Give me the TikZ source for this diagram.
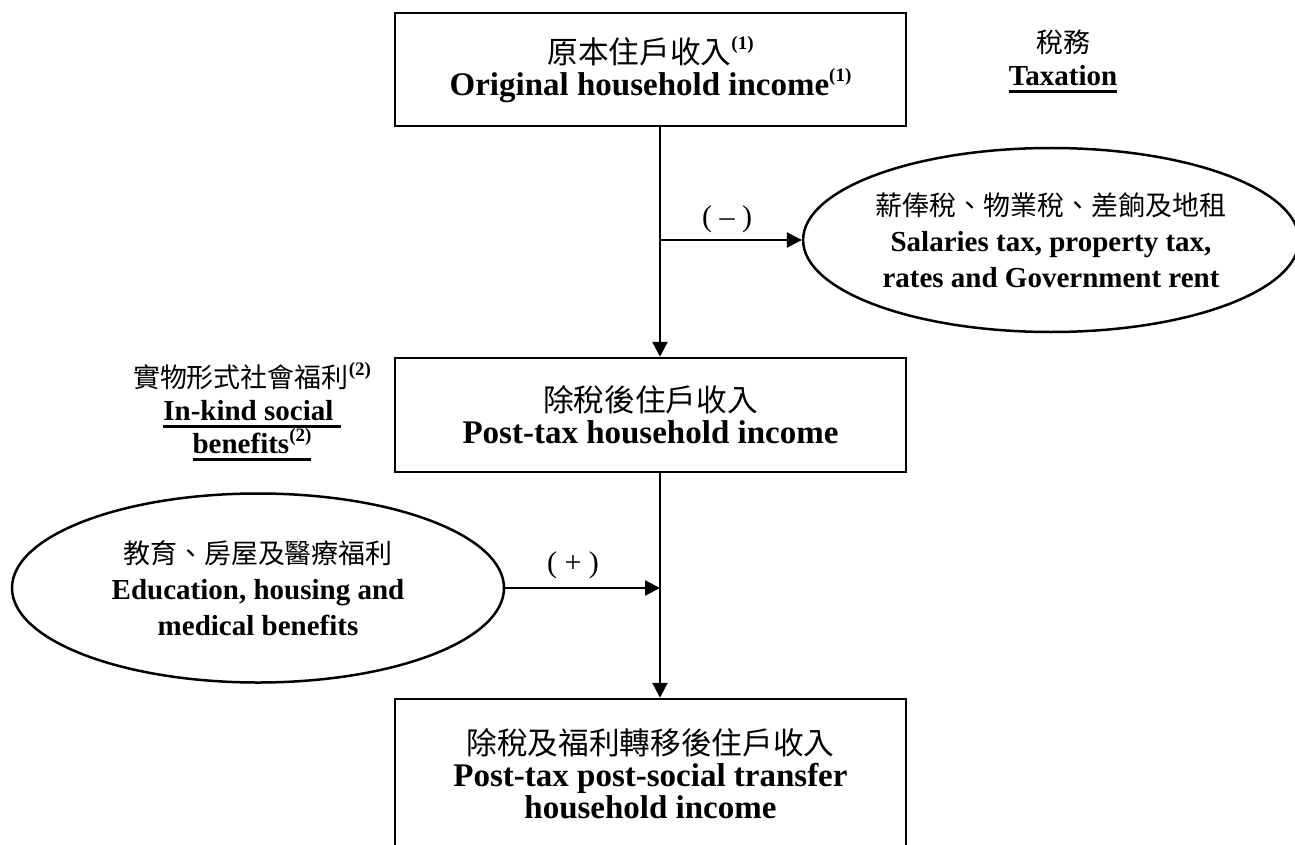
\documentclass[tikz,border=0pt]{standalone}
\usepackage{fontspec}
\setmainfont{Liberation Serif}
\newfontfamily\cjk[Scale=0.93]{Noto Sans CJK TC}
\usetikzlibrary{shapes.geometric,arrows.meta}
\newcommand\boxf{\fontsize{33}{32}\selectfont}
\newcommand\ellf{\fontsize{29}{36}\selectfont}
\newcommand\labf{\fontsize{29}{33}\selectfont}
\newcommand\supx[1]{\raisebox{0.42em}{\fontsize{19}{19}\selectfont\bfseries #1}}
\newcommand\ulx[1]{\setbox0\hbox{#1}\rlap{\rule[-7.5pt]{\wd0}{3pt}}\box0}
\begin{document}
\begin{tikzpicture}[x=1pt,y=-1pt,
  box/.style={draw, line width=2.5pt, minimum width=511pt, inner sep=0pt, align=center, font=\boxf},
  ell/.style={draw, ellipse, line width=2.5pt, inner sep=0pt, align=center, font=\ellf},
  lbl/.style={align=center, inner sep=0pt, font=\labf},
  sign/.style={inner sep=0pt, font=\fontsize{30}{30}\selectfont},
  arr/.style={line width=2.5pt, -{Triangle[length=15pt,width=15pt]}}]
\useasboundingbox (0,0) rectangle (1295,845);
\clip (0,0) rectangle (1295,845);
\fill[white] (0,0) rectangle (1295,845);
\coordinate (sp) at (660,0);
\node[box, minimum height=113pt] (b1) at (650.5,69.5)
  {\rule{0pt}{8pt}{\cjk 原本住戶收入}\supx{(1)}\\ \textbf{Original household income\supx{(1)}}};
\node[box, minimum height=114pt] (b2) at (650.5,415)
  {{\cjk 除稅後住戶收入}\\ \textbf{Post-tax household income}};
\node[box, minimum height=149pt] (b3) at (650.5,773.5)
  {{\cjk 除稅及福利轉移後住戶收入}\\ \textbf{Post-tax post-social transfer}\\ \textbf{household income}};
\node[ell, minimum width=484pt, minimum height=184pt] (re) at (1051,240)
  {{\cjk 薪俸稅、物業稅、差餉及地租}\\ \textbf{Salaries tax, property tax,}\\ \textbf{rates and Government rent}};
\node[ell, minimum width=492pt, minimum height=189pt] (le) at (258,588)
  {{\cjk 教育、房屋及醫療福利}\\ \textbf{Education, housing and}\\ \textbf{medical benefits}};
\node[lbl] (tax) at (1063,61) {{\cjk 稅務}\\ \textbf{\ulx{Taxation}}};
\node[lbl] (ink) at (252,412) {{\cjk 實物形式社會福利}\supx{(2)}\\ \textbf{\ulx{In-kind social\ }}\\ \textbf{\ulx{benefits\supx{(2)}}}};
\coordinate (j1) at (660,240);
\draw[arr] (b1.south -| sp) -- (b2.north -| sp);
\draw[arr] (j1) -- (re.west);
\node[sign] (minus) at (727,219) {(\ \textendash\ )};
\draw[arr] (b2.south -| sp) -- (b3.north -| sp);
\draw[arr] (le.east) -- (le.east -| sp);
\node[sign] (plus) at (573,565) {(\ +\ )};
\end{tikzpicture}
\end{document}
